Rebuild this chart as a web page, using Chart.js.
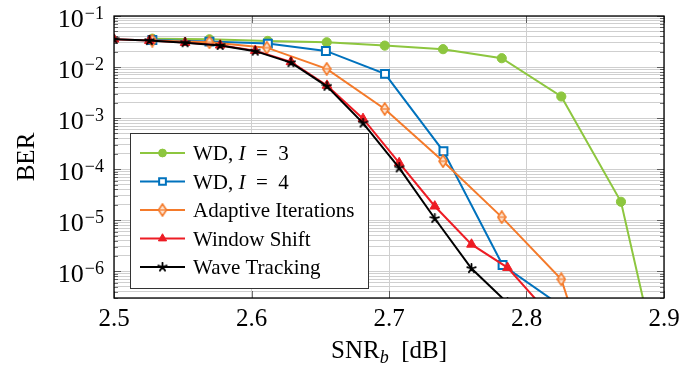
<!DOCTYPE html>
<html>
<head>
<meta charset="utf-8">
<script src="https://cdn.jsdelivr.net/npm/chart.js@4.4.0/dist/chart.umd.min.js"></script>
<style>
html, body { margin: 0; padding: 0; background: #fff; }
</style>
</head>
<body>
<canvas id="berChart" width="694" height="369"></canvas>
<script>
// axis ticks
const xTicks = [2.5, 2.6, 2.7, 2.8, 2.9];
const yDecades = [-1, -2, -3, -4, -5, -6];

// WD, I = 3
const wd3X = [2.5279, 2.5694, 2.6118, 2.6547, 2.6969, 2.7393, 2.782, 2.8253, 2.8687, 2.911];
const wd3Y = [0.036, 0.035, 0.0325, 0.0306, 0.0263, 0.0224, 0.0149, 0.00265, 2.3e-5, 2.3e-10];
// WD, I = 4
const wd4X = [2.5279, 2.5694, 2.6119, 2.6541, 2.6971, 2.7396, 2.7826, 2.8256];
const wd4Y = [0.034, 0.0315, 0.0288, 0.0207, 0.00736, 2.24e-4, 1.33e-6, 2.06e-7];
// Adaptive Iterations
const adaptX = [2.5279, 2.5694, 2.6111, 2.6547, 2.6969, 2.7393, 2.782, 2.8253, 2.8687];
const adaptY = [0.033, 0.0306, 0.024, 0.00923, 1.51e-3, 1.43e-4, 1.15e-5, 6.98e-7, 1.7e-10];
// Window Shift
const shiftX = [2.5, 2.5257, 2.5517, 2.5772, 2.6027, 2.6287, 2.6549, 2.6811, 2.7074, 2.7333, 2.76, 2.7862, 2.8125];
const shiftY = [0.0351, 0.033, 0.0301, 0.0268, 0.021, 0.01265, 0.00436, 9.73e-4, 1.33e-4, 1.88e-5, 3.37e-6, 1.18e-6, 1.9e-7];
// Wave Tracking
const waveX = [2.5, 2.5257, 2.5517, 2.5772, 2.6027, 2.6287, 2.6549, 2.6811, 2.7074, 2.7333, 2.76, 2.7862];
const waveY = [0.0351, 0.033, 0.030, 0.0265, 0.0205, 0.0122, 0.0042, 8.0e-4, 1.06e-4, 1.08e-5, 1.13e-6, 2.4e-7];

const SERIF = "'Liberation Serif', 'DejaVu Serif', serif";

const pts = (xs, ys) => xs.map((x, i) => ({ x, y: ys[i] }));

// small canvases for the marks Chart.js has no style for
function thinDiamond(w, h, stroke, fill) {
    const c = document.createElement('canvas');
    c.width = w; c.height = h;
    const g = c.getContext('2d');
    g.beginPath();
    g.moveTo(w / 2, 1); g.lineTo(w - 1, h / 2); g.lineTo(w / 2, h - 1); g.lineTo(1, h / 2);
    g.closePath();
    g.fillStyle = fill; g.fill();
    g.strokeStyle = stroke; g.lineWidth = 1.6; g.stroke();
    g.beginPath(); g.moveTo(2, h / 2); g.lineTo(w - 2, h / 2);
    g.lineWidth = 1.2; g.stroke();
    return c;
}
function asterisk(size, color) {
    const c = document.createElement('canvas');
    c.width = size; c.height = size;
    const g = c.getContext('2d');
    const r = size / 2 - 1;
    g.strokeStyle = color; g.lineWidth = 1.8; g.lineCap = 'round';
    g.beginPath();
    for (let i = 0; i < 5; i++) {
        const an = -Math.PI / 2 + i * 2 * Math.PI / 5;
        g.moveTo(size / 2, size / 2);
        g.lineTo(size / 2 + r * Math.cos(an), size / 2 + r * Math.sin(an));
    }
    g.stroke();
    return c;
}
const diamondImg = thinDiamond(10, 14, '#f47a2a', '#fde3cf');
const starImg = asterisk(11, '#000');

const datasets = [
    {
        label: [['WD, ', false], ['I', true], ['\u2002=\u20023', false]],
        data: pts(wd3X, wd3Y),
        borderColor: '#8dc63f', backgroundColor: '#8dc63f',
        pointStyle: 'circle', pointRadius: 4.6, pointBorderWidth: 1,
        order: 5
    },
    {
        label: [['WD, ', false], ['I', true], ['\u2002=\u20024', false]],
        data: pts(wd4X, wd4Y),
        borderColor: '#0072bd', backgroundColor: '#ffffff',
        pointStyle: 'rect', pointRadius: 5.6, pointBorderWidth: 2,
        order: 4
    },
    {
        label: [['Adaptive Iterations', false]],
        data: pts(adaptX, adaptY),
        borderColor: '#f47a2a', backgroundColor: '#fde3cf',
        pointStyle: diamondImg, pointRadius: 5, pointBorderWidth: 1.5,
        order: 3
    },
    {
        label: [['Window Shift', false]],
        data: pts(shiftX, shiftY),
        borderColor: '#ed1c24', backgroundColor: '#ed1c24',
        pointStyle: 'triangle', pointRadius: 5.6, pointBorderWidth: 1,
        order: 2
    },
    {
        label: [['Wave Tracking', false]],
        data: pts(waveX, waveY),
        borderColor: '#000000', backgroundColor: '#000000',
        pointStyle: starImg, pointRadius: 5, pointBorderWidth: 1.5,
        order: 1
    }
];
datasets.forEach(d => { d.borderWidth = 2; d.tension = 0; d.fill = false; });

// inward ticks, tick labels, axis titles, legend
const berDecor = {
    id: 'berDecor',
    beforeDatasetsDraw(chart) {
        const { ctx, chartArea: a, scales: { x, y } } = chart;
        ctx.save();
        ctx.strokeStyle = 'rgba(0,0,0,0.55)';
        ctx.lineWidth = 1;
        ctx.beginPath();
        y.ticks.forEach(t => {
            const py = Math.round(y.getPixelForValue(t.value)) + 0.5;
            const len = t.major ? 7 : 4;
            ctx.moveTo(a.left, py); ctx.lineTo(a.left + len, py);
            ctx.moveTo(a.right, py); ctx.lineTo(a.right - len, py);
        });
        xTicks.forEach(v => {
            const px = Math.round(x.getPixelForValue(v)) + 0.5;
            ctx.moveTo(px, a.bottom); ctx.lineTo(px, a.bottom - 7);
            ctx.moveTo(px, a.top); ctx.lineTo(px, a.top + 7);
        });
        ctx.stroke();
        ctx.restore();
    },
    afterDraw(chart) {
        const { ctx, chartArea: a, scales: { x, y } } = chart;
        ctx.save();

        // frame
        ctx.strokeStyle = '#000';
        ctx.lineWidth = 1.3;
        ctx.strokeRect(a.left, a.top, a.right - a.left, a.bottom - a.top);

        ctx.fillStyle = '#000';
        // x tick labels
        ctx.font = '25px ' + SERIF;
        ctx.textAlign = 'center';
        ctx.textBaseline = 'alphabetic';
        xTicks.forEach(v => ctx.fillText(v.toFixed(1), x.getPixelForValue(v), 326));

        // y tick labels 10^k
        yDecades.forEach(k => {
            const py = y.getPixelForValue(Math.pow(10, k));
            const sup = '\u2212' + Math.abs(k);
            ctx.font = '18px ' + SERIF;
            const supW = ctx.measureText(sup).width;
            ctx.textAlign = 'left';
            ctx.fillText(sup, 104 - supW, py + 3);
            ctx.font = '26px ' + SERIF;
            ctx.textAlign = 'right';
            ctx.fillText('10', 104 - supW - 1, py + 11);
        });

        // y title
        ctx.save();
        ctx.translate(34, (a.top + a.bottom) / 2);
        ctx.rotate(-Math.PI / 2);
        ctx.font = '25px ' + SERIF;
        ctx.textAlign = 'center';
        ctx.fillText('BER', 0, 0);
        ctx.restore();

        // x title SNR_b [dB]
        ctx.textAlign = 'left';
        ctx.font = '25px ' + SERIF;
        const w1 = ctx.measureText('SNR').width;
        ctx.font = 'italic 18px ' + SERIF;
        const w2 = ctx.measureText('b').width;
        ctx.font = '25px ' + SERIF;
        const w3 = ctx.measureText('  [dB]').width;
        const tx = (a.left + a.right) / 2 - (w1 + w2 + w3) / 2;
        ctx.fillText('SNR', tx, 358);
        ctx.font = 'italic 18px ' + SERIF;
        ctx.fillText('b', tx + w1, 363);
        ctx.font = '25px ' + SERIF;
        ctx.fillText('  [dB]', tx + w1 + w2, 358);

        // legend
        const lx = 130.5, ly = 133.5, lw = 238, lh = 155;
        ctx.fillStyle = '#fff';
        ctx.fillRect(lx, ly, lw, lh);
        ctx.strokeStyle = '#333';
        ctx.lineWidth = 1;
        ctx.strokeRect(lx, ly, lw, lh);

        chart.data.datasets.forEach((ds, i) => {
            const ey = 153 + i * 28.5;
            ctx.strokeStyle = ds.borderColor;
            ctx.lineWidth = 2;
            ctx.beginPath();
            ctx.moveTo(140, ey); ctx.lineTo(185, ey);
            ctx.stroke();
            ctx.fillStyle = ds.backgroundColor;
            ctx.lineWidth = ds.pointBorderWidth;
            Chart.helpers.drawPoint(ctx, {
                pointStyle: ds.pointStyle, radius: ds.pointRadius * 0.85,
                rotation: 0, borderWidth: ds.pointBorderWidth
            }, 162.5, ey);

            ctx.fillStyle = '#000';
            ctx.textAlign = 'left';
            ctx.textBaseline = 'alphabetic';
            let px = 193;
            ds.label.forEach(([t, it]) => {
                ctx.font = (it ? 'italic ' : '') + '21px ' + SERIF;
                ctx.fillText(t, px, ey + 7);
                px += ctx.measureText(t).width;
            });
        });
        ctx.restore();
    }
};

new Chart(document.getElementById('berChart'), {
    type: 'line',
    data: { datasets },
    options: {
        responsive: false,
        animation: false,
        layout: { padding: { left: 114, right: 30, top: 16, bottom: 71 } },
        plugins: { legend: { display: false }, tooltip: { enabled: false } },
        scales: {
            x: {
                type: 'linear', min: 2.5, max: 2.9,
                afterBuildTicks: s => { s.ticks = xTicks.map(v => ({ value: v })); },
                ticks: { display: false },
                grid: { color: '#cfcfcf', lineWidth: 1, drawTicks: false },
                border: { display: false }
            },
            y: {
                type: 'logarithmic', min: 3e-7, max: 0.1,
                afterBuildTicks: s => {
                    const t = [];
                    for (let k = -7; k <= -1; k++) {
                        for (let m = 1; m <= 9; m++) {
                            const v = m * Math.pow(10, k);
                            if (v >= s.min * 0.999 && v <= s.max * 1.001) t.push({ value: v, major: m === 1 });
                        }
                    }
                    s.ticks = t;
                },
                ticks: { display: false },
                grid: { color: '#cfcfcf', lineWidth: 1, drawTicks: false },
                border: { display: false }
            }
        }
    },
    plugins: [berDecor]
});
</script>
</body>
</html>
